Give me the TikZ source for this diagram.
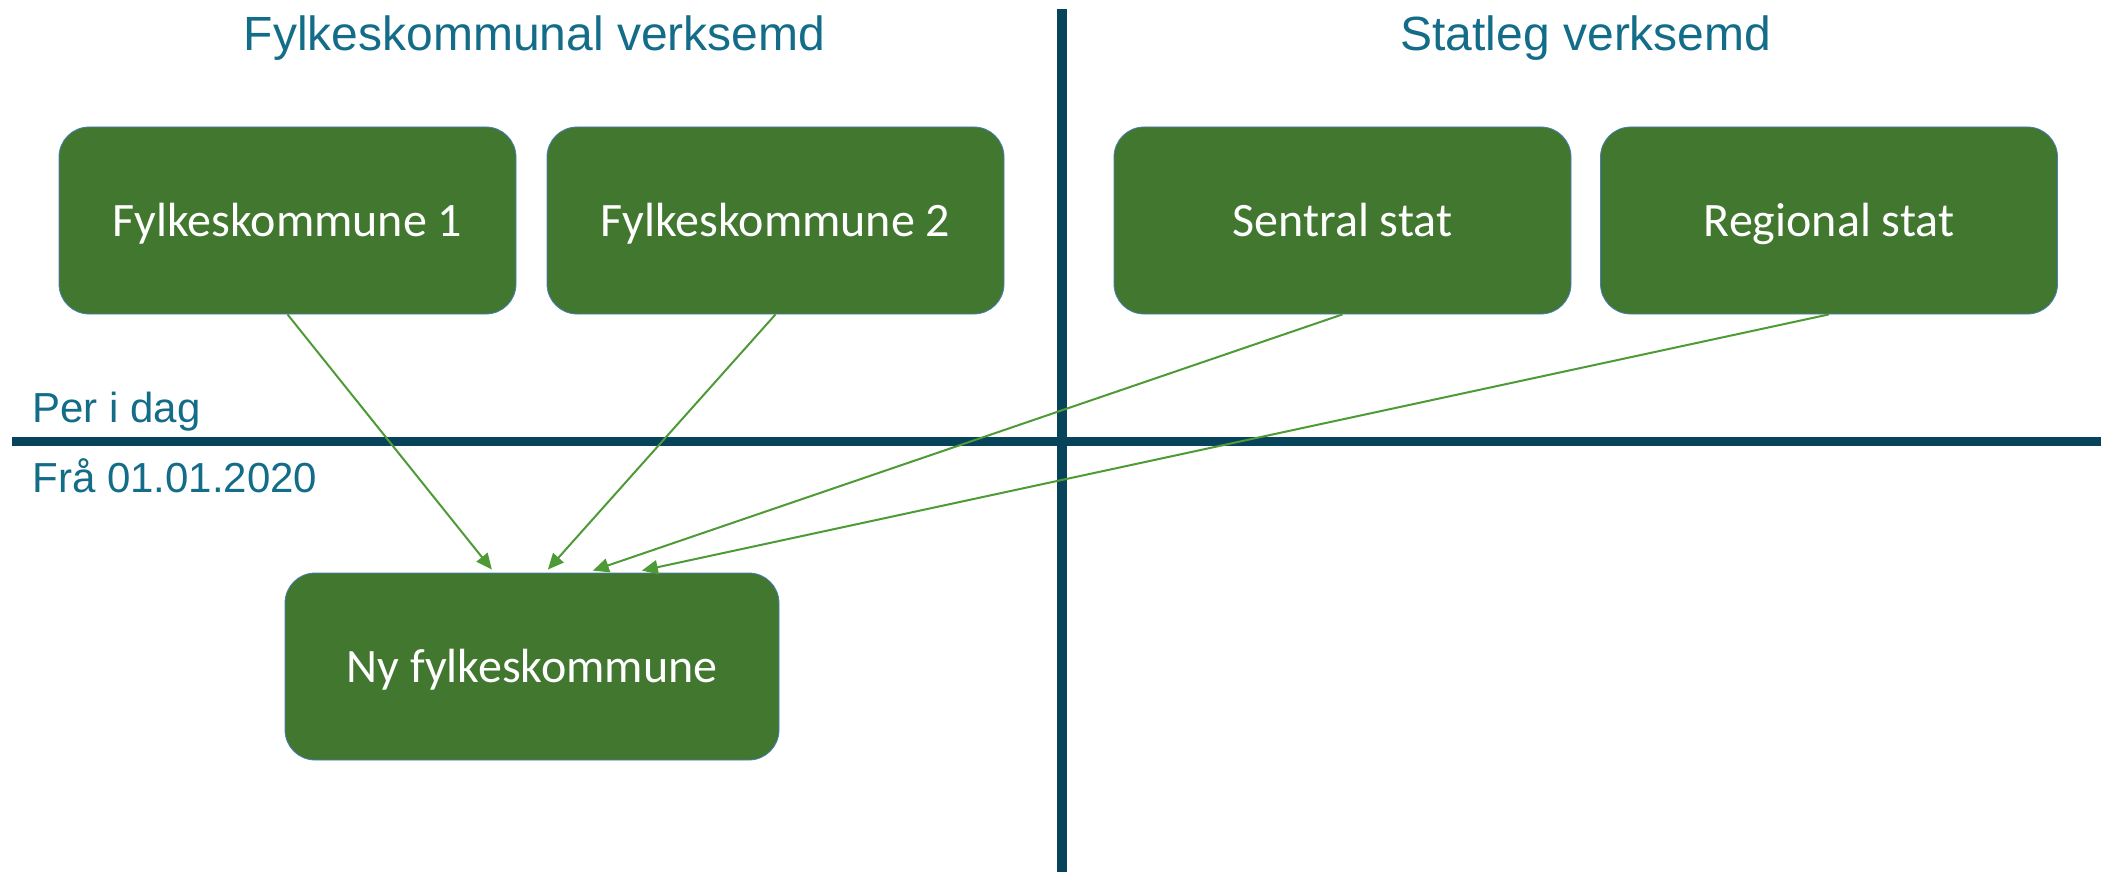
\documentclass[tikz,border=0pt]{standalone}
\usepackage{fontspec}
\setmainfont{Liberation Sans}
\newfontfamily\boxfont{Carlito}
\usetikzlibrary{arrows.meta,calc}
\definecolor{boxgreen}{HTML}{41772F}
\definecolor{boxedge}{HTML}{4A7EBB}
\definecolor{arrowgreen}{HTML}{4E9A36}
\definecolor{divider}{HTML}{07435A}
\definecolor{headteal}{HTML}{136C88}
\tikzset{
  orgbox/.style={draw=boxedge, line width=0.4pt, fill=boxgreen, rounded corners=15pt,
    minimum width=228.5pt, minimum height=93.5pt, inner sep=0pt,
    text height=17pt, text depth=1.5pt,
    text=white, font=\boxfont\fontsize{24}{28}\selectfont},
  head/.style={text=headteal, font=\fontsize{24}{28}\selectfont, anchor=base, inner sep=0pt},
  side/.style={text=headteal, font=\fontsize{21}{25}\selectfont, anchor=base west, inner sep=0pt},
  divline/.style={draw=divider},
  flow/.style={draw=arrowgreen, line width=1pt, -{Triangle[length=8pt,width=7pt]}}
}
\begin{document}
\begin{tikzpicture}[x=0.5pt,y=-0.5pt]
\useasboundingbox (0,0) rectangle (2101,872);
% dividers
\coordinate (vtop) at (1062,9);
\coordinate (vbot) at (1062,872);
\coordinate (hleft) at (12,441);
\coordinate (hright) at (2101,441);
\draw[divline, line width=4.75pt] (vtop) -- (vbot);
\draw[divline, line width=4.5pt] (hleft) -- (hright);
% headings
\node[head] (h1) at (534.5,51) {Fylkeskommunal verksemd};
\node[head] (h2) at (1586,51) {Statleg verksemd};
\node[side] (l1) at (32,422) {Per i dag};
\node[side] (l2) at (32,492) {Frå 01.01.2020};
% boxes
\node[orgbox] (b1) at (287.5,220.5) {Fylkeskommune 1};
\node[orgbox] (b2) at (775.5,220.5) {Fylkeskommune 2};
\node[orgbox] (b3) at (1342.5,220.5) {Sentral stat};
\node[orgbox] (b4) at (1829,220.5) {Regional stat};
\node[orgbox, minimum width=247pt] (ny) at (532,666.5) {Ny fylkeskommune};
% arrow targets
\coordinate (t1) at ($(ny.north west)!0.419!(ny.north east)+(0,-3)$);
\coordinate (t2) at ($(ny.north west)!0.532!(ny.north east)+(0,-3)$);
\coordinate (t3) at ($(ny.north west)!0.623!(ny.north east)+(0,-2)$);
\coordinate (t4) at ($(ny.north west)!0.722!(ny.north east)+(0,-2)$);
\draw[flow] (b1.south) -- (t1);
\draw[flow] (b2.south) -- (t2);
\draw[flow] (b3.south) -- (t3);
\draw[flow] (b4.south) -- (t4);
\end{tikzpicture}
\end{document}
